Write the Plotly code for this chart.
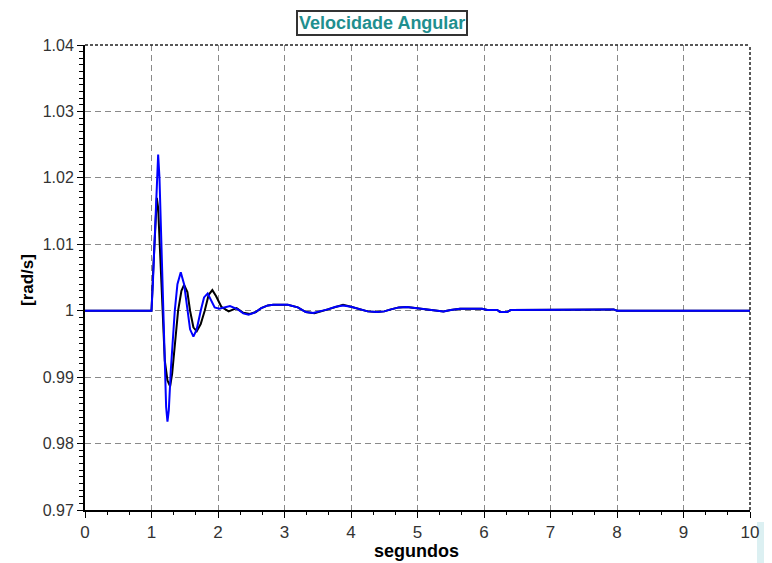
import plotly.graph_objects as go

# ---- data ----
t_blue = [0, 1.00, 1.02, 1.05, 1.08, 1.10, 1.12, 1.15, 1.18, 1.20, 1.22, 1.24, 1.26, 1.29,
          1.32, 1.35, 1.39, 1.44, 1.49, 1.54, 1.58, 1.63, 1.68, 1.74, 1.79, 1.845, 1.90,
          1.95, 2.02, 2.10, 2.18, 2.30, 2.38, 2.46, 2.55, 2.65, 2.75, 2.83, 3.05, 3.20,
          3.32, 3.43, 3.55, 3.65, 3.77, 3.88, 4.00, 4.10, 4.25, 4.39, 4.50, 4.60, 4.72,
          4.84, 4.97, 5.10, 5.25, 5.39, 5.50, 5.64, 5.97, 6.05, 6.20, 6.24, 6.35, 6.40,
          7.95, 8.00, 10.0]
w_blue = [1.0, 1.0, 1.004, 1.012, 1.020, 1.0235, 1.020, 1.010, 1.000, 0.991, 0.9855, 0.9833,
          0.9850, 0.991, 0.9965, 1.000, 1.0040, 1.0058, 1.0040, 1.000, 0.9972, 0.9961,
          0.9972, 1.000, 1.0020, 1.0026, 1.0015, 1.0005, 1.0003, 1.0005, 1.0007, 1.0002,
          0.9996, 0.9994, 0.9997, 1.0004, 1.0008, 1.0009, 1.0009, 1.0005, 0.9998, 0.99965,
          0.9999, 1.0002, 1.0006, 1.0008, 1.0006, 1.0003, 0.9999, 0.9998, 0.9999, 1.0002,
          1.0005, 1.00056, 1.0004, 1.0002, 1.0, 0.9999, 1.0001, 1.0003, 1.0003, 1.0001,
          1.0001, 0.9998, 0.9998, 1.0001, 1.0002, 1.0, 1.0]

t_black = [0, 1.00, 1.03, 1.06, 1.08, 1.10, 1.12, 1.16, 1.20, 1.24, 1.28, 1.31, 1.35, 1.40,
           1.45, 1.49, 1.54, 1.58, 1.63, 1.68, 1.74, 1.80, 1.86, 1.915, 1.97, 2.05, 2.16,
           2.28, 2.38, 2.48, 2.57, 2.65, 2.75, 2.83, 3.05, 3.20, 3.32, 3.45, 3.55, 3.65,
           3.77, 3.88, 4.00, 4.10, 4.25, 4.39, 4.50, 4.60, 4.72, 4.84, 4.97, 5.10, 5.25,
           5.39, 5.50, 5.64, 5.97, 6.05, 6.20, 6.24, 6.35, 6.40, 7.95, 8.00, 10.0]
w_black = [1.0, 1.0, 1.007, 1.014, 1.017, 1.0155, 1.011, 1.000, 0.9925, 0.9895, 0.9886,
           0.9905, 0.995, 1.000, 1.0030, 1.0039, 1.0028, 1.000, 0.9975, 0.9969, 0.9980,
           1.000, 1.0024, 1.0031, 1.0022, 1.0006, 0.9999, 1.0004, 0.9997, 0.9995, 0.9998,
           1.0004, 1.0008, 1.0009, 1.0009, 1.0005, 0.9998, 0.99962, 0.9999, 1.0002, 1.0006,
           1.0009, 1.0006, 1.0003, 0.9999, 0.9998, 0.9999, 1.0002, 1.0005, 1.00056, 1.0004,
           1.0002, 1.0, 0.9999, 1.0001, 1.0003, 1.0003, 1.0001, 1.0001, 0.9998, 0.9998,
           1.0001, 1.0002, 1.0, 1.0]

x_ticks = [0, 1, 2, 3, 4, 5, 6, 7, 8, 9, 10]
y_ticks = [0.97, 0.98, 0.99, 1.0, 1.01, 1.02, 1.03, 1.04]
y_tick_labels = ["0.97", "0.98", "0.99", "1", "1.01", "1.02", "1.03", "1.04"]

title_text = "Velocidade Angular"
x_title = "segundos"
y_title = "[rad/s]"

# ---- figure ----
fig = go.Figure()
fig.add_trace(go.Scatter(x=t_black, y=w_black, mode="lines",
                         line=dict(color="#000000", width=2),
                         showlegend=False, hoverinfo="skip"))
fig.add_trace(go.Scatter(x=t_blue, y=w_blue, mode="lines",
                         line=dict(color="#0000FF", width=2),
                         showlegend=False, hoverinfo="skip"))

axis_font = dict(family="Liberation Sans, Arial, sans-serif", size=16, color="#333333")

fig.update_xaxes(range=[0, 10], tickmode="array", tickvals=x_ticks,
                 ticks="outside", ticklen=6, tickcolor="#000000", tickwidth=1,
                 showline=True, linecolor="#000000", linewidth=2,
                 showgrid=True, gridcolor="#8a8a8a", gridwidth=1, griddash="6px,4px",
                 zeroline=False,
                 tickfont=dict(family="Liberation Sans Narrow, Arial Narrow, Liberation Sans, sans-serif",
                               size=17, color="#333333"),
                 minor=dict(tick0=0, dtick=1/3, ticks="outside", ticklen=3,
                            tickcolor="#000000", showgrid=False))
fig.update_yaxes(range=[0.97, 1.04], tickmode="array", tickvals=y_ticks, ticktext=y_tick_labels,
                 ticks="outside", ticklen=6, tickcolor="#000000", tickwidth=1,
                 showline=True, linecolor="#000000", linewidth=2,
                 showgrid=True, gridcolor="#8a8a8a", gridwidth=1, griddash="6px,4px",
                 zeroline=False, tickfont=axis_font,
                 minor=dict(tick0=0.97, dtick=0.001, ticks="outside", ticklen=4,
                            tickcolor="#000000", showgrid=False))

# page body has an 8px margin, so the figure is sized/offset to compensate
fig.update_layout(
    width=764, height=555,
    margin=dict(l=77, r=22, t=37, b=53),
    paper_bgcolor="#ffffff", plot_bgcolor="#ffffff",
    shapes=[
        dict(type="line", xref="paper", yref="paper", x0=0, x1=1, y0=1, y1=1,
             line=dict(color="#222222", width=1.5, dash="3px,2px")),
        dict(type="line", xref="paper", yref="paper", x0=1, x1=1, y0=0, y1=1,
             line=dict(color="#222222", width=1.5, dash="3px,2px")),
        dict(type="rect", xref="paper", yref="paper", x0=1.0105, x1=1.04, y0=-0.114, y1=-0.0258,
             fillcolor="#dcf0f2", line=dict(width=0), layer="below"),
    ],
    annotations=[
        dict(text=title_text, xref="paper", yref="paper", x=0.4466, y=1.047,
             xanchor="center", yanchor="middle", showarrow=False,
             font=dict(family="Liberation Sans, Arial, sans-serif", size=18, color="#1f8f8f",
                       weight="bold"),
             bordercolor="#333333", borderwidth=2, borderpad=1, bgcolor="#ffffff"),
        dict(text=x_title, xref="paper", yref="paper", x=0.498, y=-0.088,
             xanchor="center", yanchor="middle", showarrow=False,
             font=dict(family="Liberation Sans, Arial, sans-serif", size=18, color="#000000",
                       weight="bold")),
        dict(text=y_title, xref="paper", yref="paper", x=-0.0872, y=0.4946,
             xanchor="center", yanchor="middle", showarrow=False, textangle=-90,
             font=dict(family="Liberation Sans, Arial, sans-serif", size=17, color="#000000",
                       weight="bold")),
    ],
)

fig.write_html("out.html")
